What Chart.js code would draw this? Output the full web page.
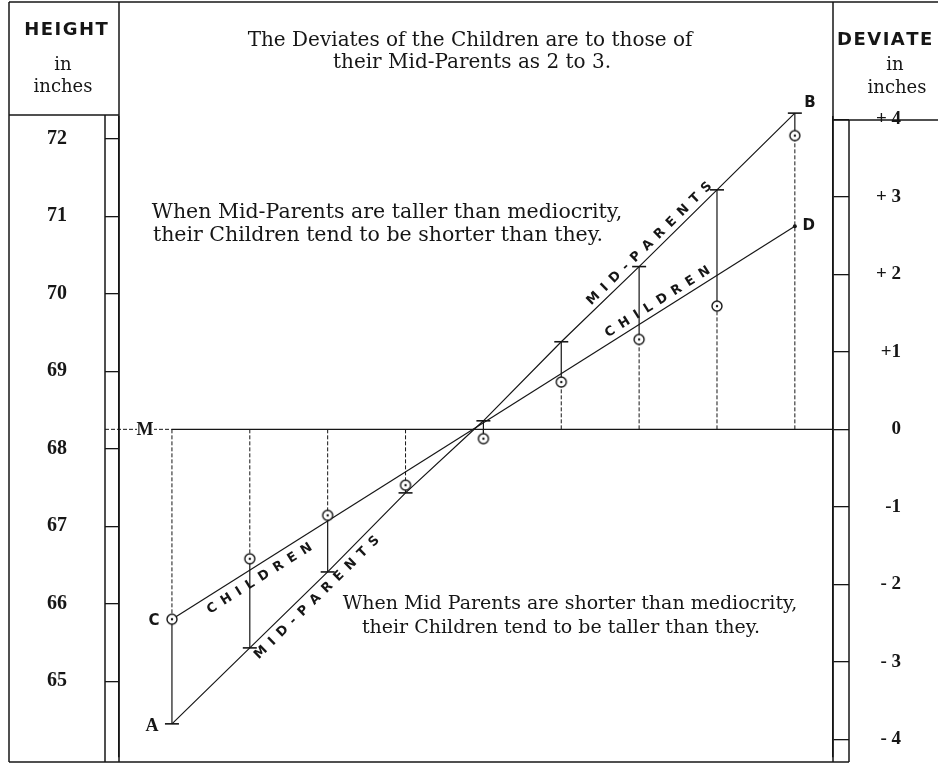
<!DOCTYPE html>
<html>
<head>
<meta charset="utf-8">
<title>Rate of regression in hereditary stature</title>
<script src="https://cdn.jsdelivr.net/npm/chart.js@4.4.1/dist/chart.umd.min.js"></script>
<style>
  html, body { margin: 0; padding: 0; background: #fff; }
  #wrap { width: 938px; height: 765px; }
</style>
</head>
<body>
<div id="wrap"><canvas id="chart" width="938" height="765"></canvas></div>
<script>
// columns: mid-parent height classes (inches)
const midParentClasses = [64.5, 65.5, 66.5, 67.5, 68.5, 69.5, 70.5, 71.5, 72.5];
// where the MID-PARENTS line meets each column (the bars)
const midParentValues = [64.45, 65.43, 66.41, 67.43, 68.36, 69.38, 70.35, 71.34, 72.33];
// mean height of the children in each column (the circles)
const childrenValues = [65.8, 66.58, 67.14, 67.53, 68.13, 68.86, 69.41, 69.84, 72.04];
// the CHILDREN line, from C to D
const childrenLineEnds = [65.8, 70.87];
const mediocrity = 68.25;
const heightTicks = [65, 66, 67, 68, 69, 70, 71, 72];
const deviateTicks = [-4, -3, -2, -1, 0, 1, 2, 3, 4];
const deviateLabels = ["- 4", "- 3", "- 2", "-1", "0", "+1", "+ 2", "+ 3", "+ 4"];

const yMin = 64.03, yMax = 72.28;
const xMin = 63.82, xMax = 72.99;
const ink = "#161616";
const first = midParentClasses[0];
const last = midParentClasses[midParentClasses.length - 1];

// circle with a dot in the middle
function ringMark() {
  const c = document.createElement("canvas");
  c.width = 14; c.height = 14;
  const g = c.getContext("2d");
  g.fillStyle = "#fff";
  g.strokeStyle = ink;
  g.lineWidth = 1.4;
  g.beginPath(); g.arc(7, 7, 5, 0, Math.PI * 2); g.fill(); g.stroke();
  g.fillStyle = ink;
  g.beginPath(); g.arc(7, 7, 1.2, 0, Math.PI * 2); g.fill();
  return c;
}

// vertical pieces, broken by null points
const solidPieces = [];
const dashedPieces = [];
midParentClasses.forEach(function (x, i) {
  solidPieces.push({ x: x, y: childrenValues[i] }, { x: x, y: midParentValues[i] }, { x: x, y: null });
  dashedPieces.push({ x: x, y: mediocrity }, { x: x, y: childrenValues[i] }, { x: x, y: null });
});

function tracked(ctx, text, x, y, spacing, align) {
  let w = 0;
  for (const ch of text) w += ctx.measureText(ch).width + spacing;
  w -= spacing;
  let cx = align === "center" ? x - w / 2 : x;
  ctx.textAlign = "left";
  for (const ch of text) {
    ctx.fillText(ch, cx, y);
    cx += ctx.measureText(ch).width + spacing;
  }
}

function lineLabel(ctx, chart, text, v1, v2, atX, offset) {
  const xs = chart.scales.x, ys = chart.scales.y;
  const x0 = xs.getPixelForValue(first), x1 = xs.getPixelForValue(last);
  const y0 = ys.getPixelForValue(v1), y1 = ys.getPixelForValue(v2);
  const px = xs.getPixelForValue(atX);
  const py = y0 + (y1 - y0) * (px - x0) / (x1 - x0);
  ctx.save();
  ctx.translate(px, py);
  ctx.rotate(Math.atan2(y1 - y0, x1 - x0));
  ctx.font = "bold 13px 'DejaVu Sans'";
  ctx.textBaseline = "middle";
  tracked(ctx, text, 0, offset, 6.8, "center");
  ctx.restore();
}

// the y axes must not add their label padding above and below the plot
function fixAxis(width) {
  return function (scale) {
    scale.width = width;
    scale.paddingTop = 0;
    scale.paddingBottom = 0;
  };
}

const diagram = {
  id: "diagram",
  afterDatasetsDraw: function (chart) {
    const ctx = chart.ctx;
    const xs = chart.scales.x, ys = chart.scales.y;
    ctx.save();
    ctx.fillStyle = ink;
    ctx.strokeStyle = ink;

    // M : dashed lead-in from the tick column
    const my = ys.getPixelForValue(mediocrity);
    const ax = xs.getPixelForValue(first);
    ctx.lineWidth = 1;
    ctx.setLineDash([4, 2]);
    ctx.beginPath(); ctx.moveTo(105, my); ctx.lineTo(ax, my); ctx.stroke();
    ctx.setLineDash([]);
    ctx.font = "bold 18px 'Liberation Serif'";
    ctx.textAlign = "center";
    ctx.textBaseline = "middle";
    ctx.fillStyle = "#fff";
    ctx.fillRect(137, my - 7, 17, 14);
    ctx.fillStyle = ink;
    ctx.fillText("M", 145, my + 1);

    // A B C D
    const bx = xs.getPixelForValue(last);
    ctx.fillText("A", ax - 20, ys.getPixelForValue(midParentValues[0]) + 2);
    ctx.font = "bold 15px 'DejaVu Sans'";
    ctx.fillText("C", ax - 18, ys.getPixelForValue(childrenLineEnds[0]) + 2);
    ctx.fillText("B", bx + 15, ys.getPixelForValue(midParentValues[midParentValues.length - 1]) - 10);
    ctx.fillText("D", bx + 14, ys.getPixelForValue(childrenLineEnds[1]));

    // lettering along the two lines
    const mpA = midParentValues[0], mpB = midParentValues[midParentValues.length - 1];
    lineLabel(ctx, chart, "MID-PARENTS", mpA, mpB, 70.71, -8.5);
    lineLabel(ctx, chart, "CHILDREN", childrenLineEnds[0], childrenLineEnds[1], 70.8, -9);
    lineLabel(ctx, chart, "CHILDREN", childrenLineEnds[0], childrenLineEnds[1], 65.54, 12.5);
    lineLabel(ctx, chart, "MID-PARENTS", mpA, mpB, 66.26, 11.5);

    // notes
    ctx.textAlign = "center";
    ctx.textBaseline = "alphabetic";
    ctx.font = "20px 'DejaVu Serif'";
    ctx.fillText("The Deviates of the Children are to those of", 470, 46);
    ctx.fillText("their Mid-Parents as 2 to 3.", 472, 68);
    ctx.font = "20.5px 'DejaVu Serif'";
    ctx.fillText("When Mid-Parents are taller than mediocrity,", 387, 218);
    ctx.fillText("their Children tend to be shorter than they.", 378, 241);
    ctx.font = "19px 'DejaVu Serif'";
    ctx.fillText("When Mid Parents are shorter than mediocrity,", 570, 609);
    ctx.fillText("their Children tend to be taller than they.", 561, 633);
    ctx.restore();
  },
  afterDraw: function (chart) {
    const ctx = chart.ctx;
    ctx.save();
    ctx.strokeStyle = ink;
    ctx.fillStyle = ink;
    ctx.lineWidth = 1.5;
    const seg = function (x1, y1, x2, y2) {
      ctx.beginPath(); ctx.moveTo(x1, y1); ctx.lineTo(x2, y2); ctx.stroke();
    };
    seg(9, 2, 938, 2);
    seg(9, 762, 849, 762);
    seg(9, 2, 9, 762);
    seg(119, 2, 119, 762);
    seg(105, 115, 105, 762);
    seg(9, 115, 119, 115);
    seg(833, 2, 833, 762);
    seg(849, 120, 849, 762);
    seg(833, 120, 938, 120);

    // column heads
    ctx.textAlign = "left";
    ctx.textBaseline = "alphabetic";
    ctx.font = "bold 18px 'DejaVu Sans'";
    tracked(ctx, "HEIGHT", 66, 35, 1.5, "center");
    tracked(ctx, "DEVIATE", 837, 45, 1.5, "left");
    ctx.font = "18px 'DejaVu Serif'";
    ctx.textAlign = "center";
    ctx.fillText("in", 63, 70);
    ctx.fillText("inches", 63, 92);
    ctx.fillText("in", 895, 70);
    ctx.fillText("inches", 897, 93);
    ctx.restore();
  }
};

new Chart(document.getElementById("chart"), {
  type: "line",
  data: {
    datasets: [
      {
        label: "Children",
        data: midParentClasses.map(function (x, i) { return { x: x, y: childrenValues[i] }; }),
        showLine: false,
        pointStyle: ringMark(),
        pointRadius: 5,
      },
      {
        label: "Mid-Parents",
        data: midParentClasses.map(function (x, i) { return { x: x, y: midParentValues[i] }; }),
        showLine: false,
        pointStyle: "line",
        pointRadius: 7,
        pointBorderWidth: 1.6,
        pointBorderColor: ink,
      },
      {
        label: "MID-PARENTS line",
        data: midParentClasses.map(function (x, i) { return { x: x, y: midParentValues[i] }; }),
        borderColor: ink,
        borderWidth: 1.2,
        pointRadius: 0,
      },
      {
        label: "CHILDREN line",
        data: [{ x: first, y: childrenLineEnds[0] }, { x: last, y: childrenLineEnds[1] }],
        borderColor: ink,
        borderWidth: 1.2,
        pointRadius: [0, 2],
        pointBackgroundColor: ink,
        pointBorderWidth: 0,
      },
      {
        label: "mediocrity",
        data: [{ x: first, y: mediocrity }, { x: xMax, y: mediocrity }],
        borderColor: ink,
        borderWidth: 1.2,
        pointRadius: 0,
      },
      {
        label: "connectors",
        data: solidPieces,
        borderColor: ink,
        borderWidth: 1.2,
        pointRadius: 0,
        spanGaps: false,
      },
      {
        label: "to mediocrity",
        data: dashedPieces,
        borderColor: ink,
        borderWidth: 1,
        borderDash: [4, 2],
        pointRadius: 0,
        spanGaps: false,
      },
    ],
  },
  options: {
    responsive: false,
    animation: false,
    events: [],
    layout: { padding: { left: 9, right: 37, top: 117, bottom: 3 } },
    datasets: { line: { clip: false } },
    plugins: {
      legend: { display: false },
      tooltip: { enabled: false },
    },
    scales: {
      x: { type: "linear", display: false, min: xMin, max: xMax },
      y: {
        position: "left",
        min: yMin,
        max: yMax,
        afterBuildTicks: function (scale) {
          scale.ticks = heightTicks.map(function (v) { return { value: v }; });
        },
        afterFit: fixAxis(110),
        grid: { drawOnChartArea: false, tickLength: 14, color: ink, lineWidth: 1.3 },
        border: { color: ink, width: 1.5 },
        ticks: {
          padding: 38,
          color: ink,
          font: { family: "Liberation Serif", weight: "bold", size: 20 },
        },
      },
      y2: {
        position: "right",
        min: yMin - mediocrity,
        max: yMax - mediocrity,
        afterBuildTicks: function (scale) {
          scale.ticks = deviateTicks.map(function (v) { return { value: v }; });
        },
        afterFit: fixAxis(68),
        grid: { drawOnChartArea: false, tickLength: 16, color: ink, lineWidth: 1.3 },
        border: { color: ink, width: 1.5 },
        ticks: {
          crossAlign: "far",
          color: ink,
          font: { family: "Liberation Serif", weight: "bold", size: 19 },
          callback: function (v) { return deviateLabels[deviateTicks.indexOf(v)]; },
        },
      },
    },
  },
  plugins: [diagram],
});
</script>
</body>
</html>
